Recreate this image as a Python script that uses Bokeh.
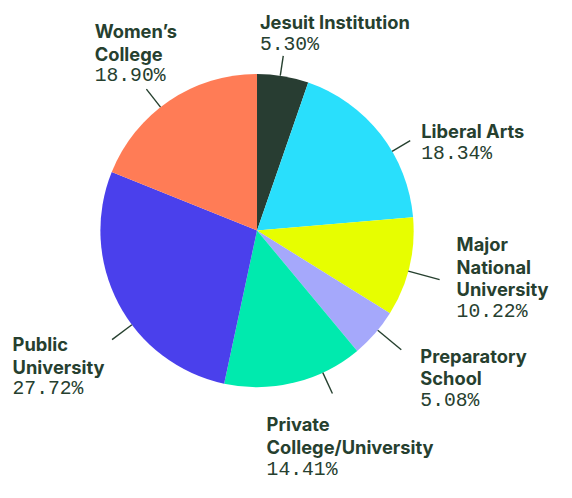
from bokeh.plotting import figure
from bokeh.models import Range1d, ColumnDataSource
from bokeh.core.properties import value
from bokeh.embed import file_html
from bokeh.resources import INLINE
import math

# ---- data ----
categories = ["Jesuit Institution", "Liberal Arts", "Major\nNational\nUniversity",
              "Preparatory\nSchool", "Private\nCollege/University", "Public\nUniversity",
              "Women\u2019s\nCollege"]
shares = [5.30, 18.34, 10.22, 5.08, 14.41, 27.72, 18.90]
colors = ["#283d32", "#29dffc", "#e7fe00", "#a5a8fb", "#00eaae", "#4a40ec", "#ff7c56"]

# ---- layout ----
W, H = 556, 482
S = 0.955                     # overall scale to fit the page
REF_CX, REF_CY = 287.5, 252.5 # centre of the design box
OUT_CX, OUT_CY = W / 2, H / 2


def X(sx):
    return (sx - REF_CX) * S + OUT_CX


def Y(sy):
    return OUT_CY - (sy - REF_CY) * S


CX, CY, R = X(265), Y(241), 164 * S
leader_nudge = [-1, 7.5, 1.5, -1.5, -11, -9, -4]        # degrees
leader_len = [21, 22, 34, 32, 24, 26, 24]
label_pos = [(268, 23), (437, 137), (474, 255), (436, 372), (275, 444), (9, 360), (95, 32)]
LINE_STEP = 23.7 * S
TEXT_COLOR = "#26402f"

p = figure(width=W, height=H, output_backend="svg", toolbar_location=None,
           x_range=Range1d(0, W), y_range=Range1d(0, H), min_border=0)
p.axis.visible = False
p.grid.visible = False
p.outline_line_color = None
p.background_fill_color = "white"

total = sum(shares)
starts, ends, mids = [], [], []
acc = 0.0
for s in shares:
    a0 = acc / total * 360
    acc += s
    a1 = acc / total * 360
    starts.append(math.radians(90 - a0))
    ends.append(math.radians(90 - a1))
    mids.append((a0 + a1) / 2)

src = ColumnDataSource(dict(x=[CX] * len(shares), y=[CY] * len(shares),
                            start=starts, end=ends, color=colors))
p.wedge(x="x", y="y", radius=R, start_angle="start", end_angle="end",
        direction="clock", fill_color="color", line_color=None, source=src)

# leader lines
xs, ys = [], []
for m, n, L in zip(mids, leader_nudge, leader_len):
    t = math.radians(m + n)
    xs.append([CX + R * math.sin(t), CX + (R + L * S) * math.sin(t)])
    ys.append([CY + R * math.cos(t), CY + (R + L * S) * math.cos(t)])
p.multi_line(xs=xs, ys=ys, line_color=TEXT_COLOR, line_width=1.4)

# labels
nx, ny, nt, px, py, pt = [], [], [], [], [], []
for cat, s, (lx, ly) in zip(categories, shares, label_pos):
    lines = cat.split("\n")
    for i, ln in enumerate(lines):
        nx.append(X(lx)); ny.append(Y(ly) - i * LINE_STEP); nt.append(ln)
    px.append(X(lx)); py.append(Y(ly) - len(lines) * LINE_STEP); pt.append(f"{s:.2f}%")

p.text(x=nx, y=ny, text=nt, text_font=value("Inter"), text_font_style="bold",
       text_font_size=f"{19.2 * S:.1f}px", text_color=TEXT_COLOR,
       text_baseline="alphabetic", text_align="left")
p.text(x=px, y=py, text=pt, text_font=value("Liberation Mono"),
       text_font_size=f"{20.6 * S:.1f}px", text_color=TEXT_COLOR,
       text_baseline="alphabetic", text_align="left")

open("out.html", "w").write(file_html(p, INLINE))
